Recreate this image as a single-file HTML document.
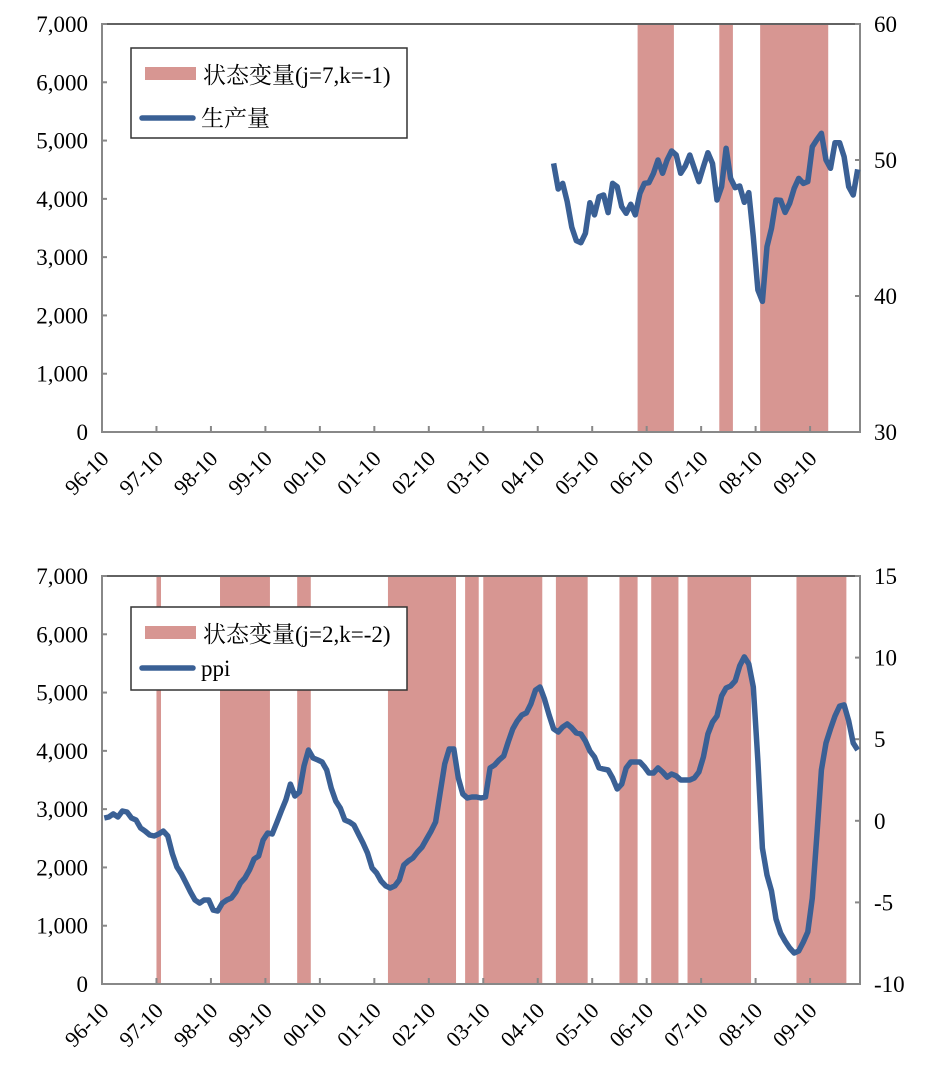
<!DOCTYPE html>
<html><head><meta charset="utf-8"><style>
body{margin:0;background:#fff;}
svg text{font-family:"Liberation Serif","Noto Serif CJK SC",serif;fill:#000;}
</style></head><body>
<svg id="svg" width="930" height="1077" xmlns="http://www.w3.org/2000/svg"></svg>
<script>
const N = 167;
const xTickLabels = ["96-10","97-10","98-10","99-10","00-10","01-10","02-10","03-10","04-10","05-10","06-10","07-10","08-10","09-10"];
const leftTicks = [0,1000,2000,3000,4000,5000,6000,7000];
const topRightTicks = [30,40,50,60];
const botRightTicks = [-10,-5,0,5,10,15];
const prodStart = 99;
const prodValues = [49.75,47.87,48.28,46.94,45.05,44.07,43.92,44.61,46.86,45.96,47.30,47.43,46.13,48.28,48.04,46.57,46.08,46.74,45.96,47.55,48.28,48.33,49.02,50.00,49.02,50.00,50.66,50.37,49.02,49.56,50.37,49.39,48.41,49.51,50.54,49.75,47.06,48.04,50.86,48.65,47.97,48.09,46.89,47.60,44.36,40.44,39.6,43.63,44.98,47.06,47.03,46.15,46.81,47.92,48.65,48.28,48.41,50.98,51.50,51.96,50.00,49.39,51.27,51.27,50.24,48.04,47.43,49.31];
const ppiValues = [0.17,0.23,0.42,0.23,0.60,0.54,0.17,0.05,-0.44,-0.63,-0.87,-0.93,-0.81,-0.63,-0.93,-2.03,-2.83,-3.26,-3.81,-4.36,-4.85,-5.04,-4.85,-4.85,-5.47,-5.53,-5.04,-4.85,-4.73,-4.36,-3.81,-3.50,-3.01,-2.34,-2.16,-1.18,-0.75,-0.81,-0.13,0.60,1.27,2.25,1.52,1.76,3.36,4.34,3.85,3.73,3.60,3.11,2.01,1.21,0.78,0.05,-0.07,-0.26,-0.81,-1.36,-1.97,-2.89,-3.20,-3.69,-3.99,-4.12,-3.99,-3.63,-2.71,-2.46,-2.28,-1.91,-1.61,-1.12,-0.63,-0.07,1.70,3.48,4.40,4.40,2.62,1.64,1.40,1.46,1.46,1.40,1.46,3.24,3.42,3.73,3.97,4.83,5.63,6.12,6.48,6.61,7.16,8.01,8.20,7.46,6.48,5.63,5.44,5.75,5.93,5.69,5.38,5.32,4.89,4.28,3.91,3.24,3.17,3.11,2.62,1.95,2.25,3.24,3.60,3.60,3.60,3.30,2.93,2.93,3.24,2.99,2.68,2.87,2.75,2.50,2.50,2.50,2.62,2.99,3.91,5.32,6.05,6.42,7.65,8.14,8.26,8.57,9.49,10.04,9.61,8.20,3.66,-1.67,-3.32,-4.30,-6.02,-6.88,-7.37,-7.79,-8.10,-7.98,-7.43,-6.81,-4.73,-0.87,3.11,4.77,5.63,6.42,7.03,7.10,6.12,4.77,4.34];
const topRegimeStart = [118,136,145];
const topRegimeEnd = [126,139,160];
const botRegimeStart = [12,26,43,63,80,84,100,114,121,129,153];
const botRegimeEnd = [13,37,46,78,83,97,107,118,127,143,164];

const svg = document.getElementById('svg');
const NS = 'http://www.w3.org/2000/svg';
function mk(tag, attrs, parent){const e=document.createElementNS(NS,tag);for(const k in attrs)e.setAttribute(k,attrs[k]);(parent||svg).appendChild(e);return e;}
const X0=102, X1=860, W=(X1-X0)/N;
function xb(i){return X0+i*W;}
function xc(i){return X0+(i+0.5)*W;}

function chart(top, name, rTicks, rMin, rMax, regS, regE, vals, start, legendLabel, seriesLabel, legendY){
  const bot = top+408;
  const g = mk('g',{});
  
  
  const yL = v => bot - v/7000*408;
  const yR = v => bot - (v-rMin)/(rMax-rMin)*408;
  for(let k=0;k<regS.length;k++){
    const r = mk('rect',{x:xb(regS[k]),y:top,width:xb(regE[k])-xb(regS[k]),height:408,fill:'#d79692'},g);
    
    
  }
  const fr = mk('path',{d:`M${X0},${bot}V${top}H${X1}V${bot}Z`,fill:'none',stroke:'#888','stroke-width':2},g);
  
  
  mk('line',{x1:X0,y1:top,x2:X1,y2:top,stroke:'#555','stroke-width':1.5},g);
  leftTicks.forEach(v=>{
    mk('line',{x1:X0,y1:yL(v),x2:X0+5,y2:yL(v),stroke:'#888','stroke-width':2},g);
    const t = mk('text',{x:88,y:yL(v)+8,'text-anchor':'end','font-size':23},g);
    t.textContent = v.toLocaleString('en-US');
    
    
  });
  rTicks.forEach(v=>{
    mk('line',{x1:X1-5,y1:yR(v),x2:X1,y2:yR(v),stroke:'#888','stroke-width':2},g);
    const t = mk('text',{x:874,y:yR(v)+8,'text-anchor':'start','font-size':23},g);
    t.textContent = v;
    
    
  });
  xTickLabels.forEach((lab,k)=>{
    const x = xb(k*12);
    mk('line',{x1:x,y1:bot,x2:x,y2:bot-6,stroke:'#888','stroke-width':2},g);
    const t = mk('text',{x:x+8,y:bot+28,'text-anchor':'end','font-size':22,transform:`rotate(-45 ${x+8} ${bot+28})`},g);
    t.textContent = lab;
    
    
  });
  const d = vals.map((v,i)=>(i?'L':'M')+xc(start+i).toFixed(1)+','+yR(v).toFixed(1)).join('');
  const p = mk('path',{d:d,fill:'none',stroke:'#3a6095','stroke-width':5.5,'stroke-linejoin':'round'},g);
  
  
  const lg = mk('g',{},g);
  
  
  mk('rect',{x:131,y:legendY,width:276,height:legendY===48?90:83,fill:'#fff',stroke:'#333','stroke-width':1.5},lg);
  mk('rect',{x:145,y:legendY+19,width:51,height:13,fill:'#d79692'},lg);
  const t1 = mk('text',{x:203,y:legendY+35,'font-size':23},lg);
  t1.textContent = legendLabel;
  
  
  const ly = legendY===48?118:668;
  mk('line',{x1:142,y1:ly,x2:193,y2:ly,stroke:'#3a6095','stroke-width':5.5,'stroke-linecap':'round'},lg);
  const t2 = mk('text',{x:201,y:ly+8,'font-size':23},lg);
  t2.textContent = seriesLabel;
  
  
}
chart(24,'production-chart',topRightTicks,30,60,topRegimeStart,topRegimeEnd,prodValues,prodStart,'状态变量(j=7,k=-1)','生产量',48);
chart(576,'ppi-chart',botRightTicks,-10,15,botRegimeStart,botRegimeEnd,ppiValues,0,'状态变量(j=2,k=-2)','ppi',607);
</script>
</body></html>
